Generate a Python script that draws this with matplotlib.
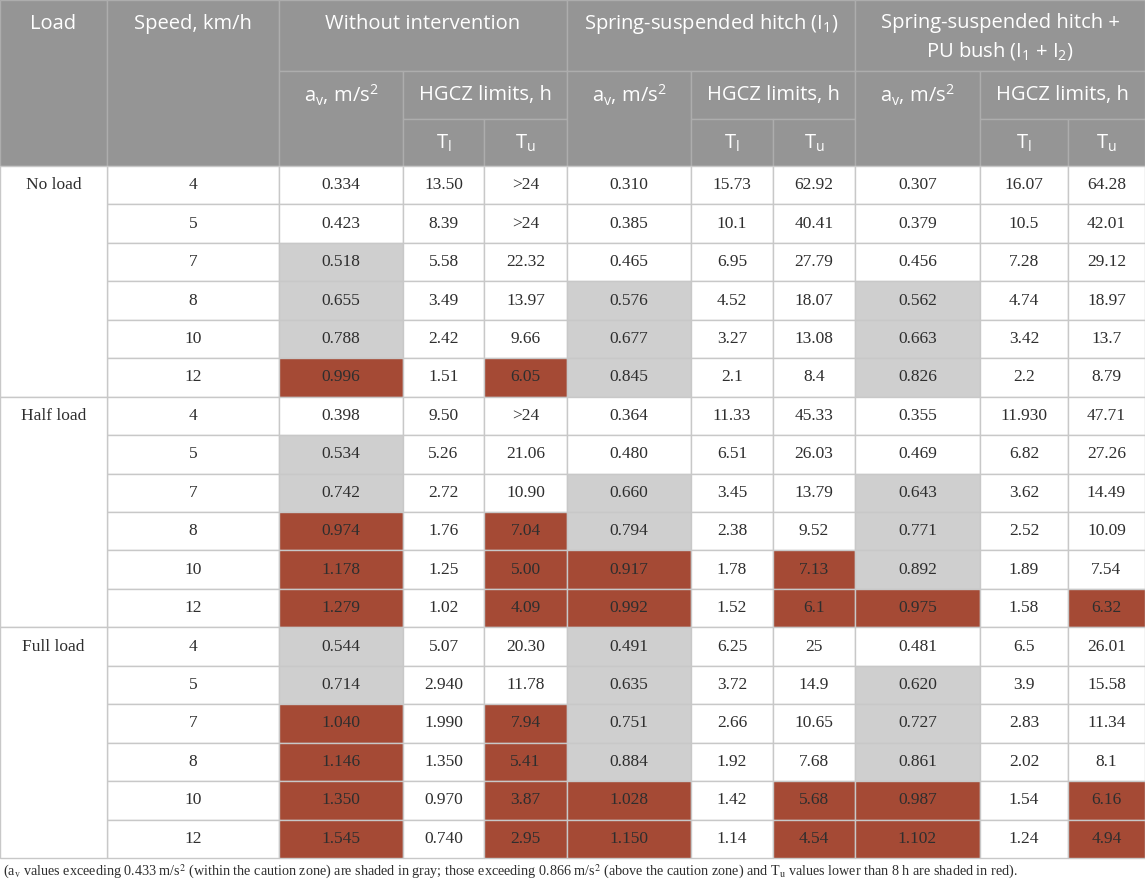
import matplotlib.pyplot as plt
from matplotlib.patches import Rectangle

plt.rcParams["mathtext.fontset"] = "custom"
plt.rcParams["mathtext.rm"] = "Open Sans"
plt.rcParams["mathtext.it"] = "Open Sans"

# ---- table data ----
loads = ["No load", "Half load", "Full load"]
speeds = ["4", "5", "7", "8", "10", "12"]

wo_av = ["0.334", "0.423", "0.518", "0.655", "0.788", "0.996",
         "0.398", "0.534", "0.742", "0.974", "1.178", "1.279",
         "0.544", "0.714", "1.040", "1.146", "1.350", "1.545"]
wo_tl = ["13.50", "8.39", "5.58", "3.49", "2.42", "1.51",
         "9.50", "5.26", "2.72", "1.76", "1.25", "1.02",
         "5.07", "2.940", "1.990", "1.350", "0.970", "0.740"]
wo_tu = [">24", ">24", "22.32", "13.97", "9.66", "6.05",
         ">24", "21.06", "10.90", "7.04", "5.00", "4.09",
         "20.30", "11.78", "7.94", "5.41", "3.87", "2.95"]

sp_av = ["0.310", "0.385", "0.465", "0.576", "0.677", "0.845",
         "0.364", "0.480", "0.660", "0.794", "0.917", "0.992",
         "0.491", "0.635", "0.751", "0.884", "1.028", "1.150"]
sp_tl = ["15.73", "10.1", "6.95", "4.52", "3.27", "2.1",
         "11.33", "6.51", "3.45", "2.38", "1.78", "1.52",
         "6.25", "3.72", "2.66", "1.92", "1.42", "1.14"]
sp_tu = ["62.92", "40.41", "27.79", "18.07", "13.08", "8.4",
         "45.33", "26.03", "13.79", "9.52", "7.13", "6.1",
         "25", "14.9", "10.65", "7.68", "5.68", "4.54"]

pu_av = ["0.307", "0.379", "0.456", "0.562", "0.663", "0.826",
         "0.355", "0.469", "0.643", "0.771", "0.892", "0.975",
         "0.481", "0.620", "0.727", "0.861", "0.987", "1.102"]
pu_tl = ["16.07", "10.5", "7.28", "4.74", "3.42", "2.2",
         "11.930", "6.82", "3.62", "2.52", "1.89", "1.58",
         "6.5", "3.9", "2.83", "2.02", "1.54", "1.24"]
pu_tu = ["64.28", "42.01", "29.12", "18.97", "13.7", "8.79",
         "47.71", "27.26", "14.49", "10.09", "7.54", "6.32",
         "26.01", "15.58", "11.34", "8.1", "6.16", "4.94"]

# shading as printed: g = caution zone (gray), r = above caution / Tu < 8 h (red)
wo_av_shade = "--gggr" + "-ggrrr" + "ggrrrr"
wo_tu_shade = "-----r" + "---rrr" + "--rrrr"
sp_av_shade = "---ggg" + "--ggrr" + "ggggrr"
sp_tu_shade = "------" + "----rr" + "----rr"
pu_av_shade = "---ggg" + "--gggr" + "-gggrr"
pu_tu_shade = "------" + "-----r" + "----rr"

caption = ("(a$_\\mathrm{v}$ values exceeding 0.433 m/s$^\\mathrm{2}$ (within the caution zone) are shaded in gray; "
           "those exceeding 0.866 m/s$^\\mathrm{2}$ (above the caution zone) and T$_\\mathrm{u}$ values lower "
           "than 8 h are shaded in red).")

# ---- layout ----
HEAD_BG = "#959595"
HEAD_LINE = "#adadad"
BODY_LINE = "#c8c8c8"
GRAY = "#cfcfcf"
RED = "#a54a35"
TXT = "#2e2e2e"
SANS = "Open Sans"
SERIF = "Liberation Serif"
BODY_FS = 12.5
HEAD_FS = 14.5

xs = [0, 107, 279, 403, 484, 567, 691, 773, 855, 980, 1068, 1145]
hy = [0, 71, 119, 166]
body_top, body_bot = 166, 858
nrows = len(wo_av)
rh = (body_bot - body_top) / nrows

fig = plt.figure(figsize=(11.45, 8.84), dpi=100)
ax = fig.add_axes([0, 0, 1, 1])
ax.set_xlim(0, 1145)
ax.set_ylim(884, 0)
ax.axis("off")


def cell(c0, c1, y0, y1, fc, ec, lw=1.0):
    ax.add_patch(Rectangle((xs[c0], y0), xs[c1] - xs[c0], y1 - y0,
                           facecolor=fc, edgecolor=ec, linewidth=lw))


def htext(c0, c1, y, s, **kw):
    ax.text((xs[c0] + xs[c1]) / 2, y, s, ha="center", va="center",
            color="white", family=SANS, fontsize=HEAD_FS, **kw)


def btext(c0, c1, y, s):
    ax.text((xs[c0] + xs[c1]) / 2, y, s, ha="center", va="center",
            color=TXT, family=SERIF, fontsize=BODY_FS)


# header
ax.add_patch(Rectangle((0, 0), 1145, hy[3], facecolor=HEAD_BG, edgecolor="none"))
cell(0, 1, hy[0], hy[3], HEAD_BG, HEAD_LINE)
cell(1, 2, hy[0], hy[3], HEAD_BG, HEAD_LINE)
for g in range(3):
    c = 2 + 3 * g
    cell(c, c + 3, hy[0], hy[1], HEAD_BG, HEAD_LINE)
    cell(c, c + 1, hy[1], hy[3], HEAD_BG, HEAD_LINE)
    cell(c + 1, c + 3, hy[1], hy[2], HEAD_BG, HEAD_LINE)
    cell(c + 1, c + 2, hy[2], hy[3], HEAD_BG, HEAD_LINE)
    cell(c + 2, c + 3, hy[2], hy[3], HEAD_BG, HEAD_LINE)
    htext(c, c + 1, 95, "a$_\\mathrm{v}$, m/s$^\\mathrm{2}$")
    htext(c + 1, c + 3, 95, "HGCZ limits, h")
    htext(c + 1, c + 2, 143, "T$_\\mathrm{l}$")
    htext(c + 2, c + 3, 143, "T$_\\mathrm{u}$")

htext(0, 1, 24, "Load")
htext(1, 2, 24, "Speed, km/h")
htext(2, 5, 24, "Without intervention")
htext(5, 8, 24, "Spring-suspended hitch (I$_\\mathrm{1}$)")
htext(8, 11, 23, "Spring-suspended hitch +")
htext(8, 11, 51, "PU bush (I$_\\mathrm{1}$ + I$_\\mathrm{2}$)")

# body
columns = [
    (wo_av, wo_av_shade), (wo_tl, None), (wo_tu, wo_tu_shade),
    (sp_av, sp_av_shade), (sp_tl, None), (sp_tu, sp_tu_shade),
    (pu_av, pu_av_shade), (pu_tl, None), (pu_tu, pu_tu_shade),
]
fills = {"-": "white", "g": GRAY, "r": RED}

for i in range(nrows):
    y0 = body_top + i * rh
    y1 = y0 + rh
    yc = (y0 + y1) / 2
    cell(1, 2, y0, y1, "white", BODY_LINE)
    btext(1, 2, yc, speeds[i % len(speeds)])
    for j, (vals, shade) in enumerate(columns):
        fc = fills[shade[i]] if shade else "white"
        cell(2 + j, 3 + j, y0, y1, fc, BODY_LINE)
        btext(2 + j, 3 + j, yc, vals[i])

for k, name in enumerate(loads):
    y0 = body_top + k * len(speeds) * rh
    cell(0, 1, y0, y0 + len(speeds) * rh, "white", BODY_LINE)
    btext(0, 1, y0 + rh / 2, name)

ax.text(3, 872, caption, ha="left", va="center", color=TXT, family=SERIF,
        fontsize=10.2, math_fontfamily="stix")

fig.savefig("out.png", dpi=100)
